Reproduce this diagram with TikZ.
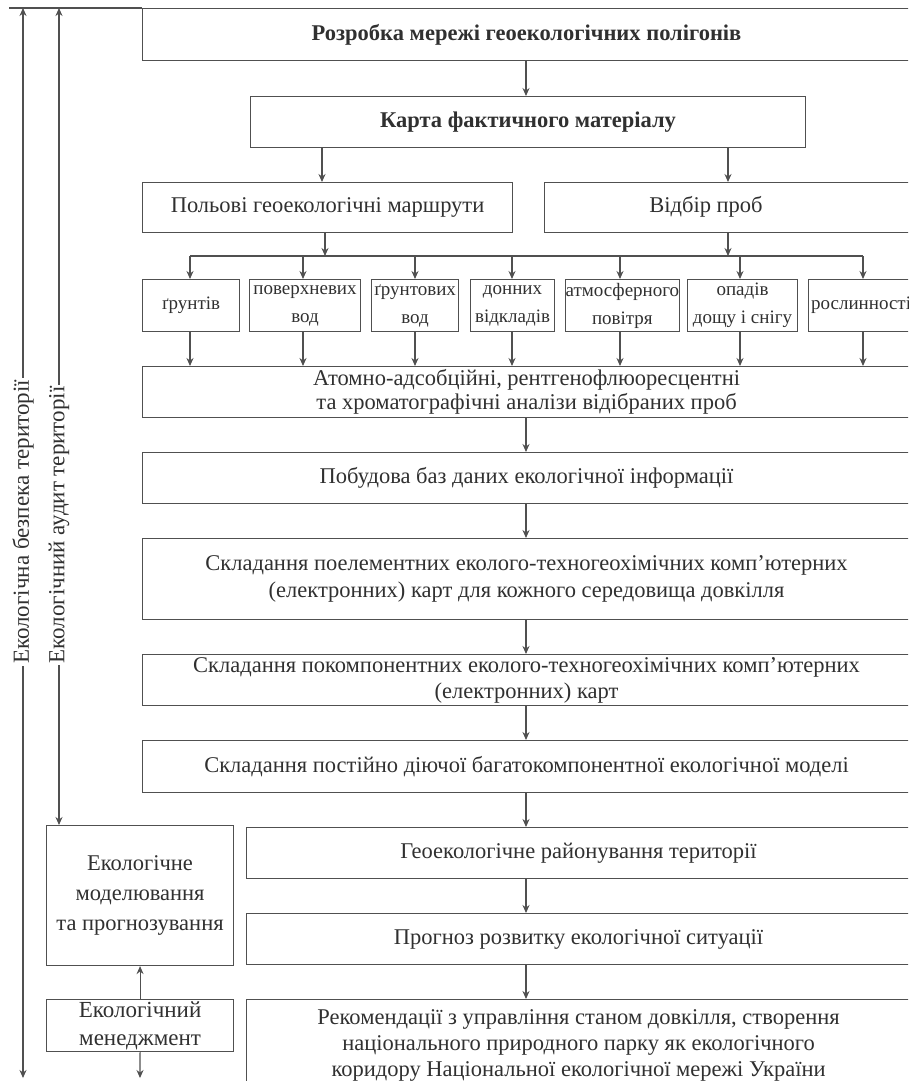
\documentclass[tikz,border=0pt]{standalone}
\usepackage{fontspec}
\setmainfont{Liberation Serif}
\usetikzlibrary{arrows.meta}
\definecolor{linec}{HTML}{505050}
\definecolor{txtc}{HTML}{303030}
\begin{document}
\begin{tikzpicture}[x=1pt,y=-1pt,
  box/.style={draw=linec, line width=1.1pt, inner sep=0pt, anchor=north west, text=txtc, align=center, font=\fontsize{22.5}{27}\selectfont},
  sbox/.style={box, minimum height=52pt, font=\fontsize{19}{28}\selectfont},
  txt/.style={inner sep=0pt, text=txtc, align=center, font=\fontsize{22.5}{27}\selectfont},
  arr/.style={draw=linec, line width=1.1pt, -{Stealth[length=8pt,width=7pt]}},
  dbl/.style={draw=linec, line width=1.1pt, {Stealth[length=8pt,width=7pt]}-{Stealth[length=8pt,width=7pt]}},
  ln/.style={draw=linec, line width=1.1pt},
  vlab/.style={rotate=90, fill=white, inner sep=2pt, text=txtc, font=\fontsize{23}{26}\selectfont}]
\useasboundingbox (0,0) rectangle (908,1081);
\clip (0,0) rectangle (908,1081);
% main column
\node[box, minimum width=768pt, minimum height=52pt, font=\fontsize{22.5}{27}\selectfont\bfseries] (b1) at (142,8) {Розробка мережі геоекологічних полігонів};
\node[box, minimum width=555pt, minimum height=51pt, font=\fontsize{22.5}{27}\selectfont\bfseries] (b2) at (250,96) {Карта фактичного матеріалу};
\node[box, minimum width=370pt, minimum height=50pt] (b3) at (142,182) {Польові геоекологічні маршрути};
\node[box, minimum width=366pt, minimum height=50pt] (b4) at (544,182) {};
\node[txt] (b4t) at (706,207) {Відбір проб};
% small boxes
\node[sbox, minimum width=97pt] (s1) at (142,279) {ґрунтів};
\node[sbox, minimum width=111pt] (s2) at (249,279) {поверхневих\\вод};
\node[sbox, minimum width=87pt] (s3) at (371,279) {ґрунтових\\вод};
\node[sbox, minimum width=84pt] (s4) at (470,279) {донних\\відкладів};
\node[sbox, minimum width=110pt] (s5) at (565,279) {атмосферного\\повітря};
\node[sbox, minimum width=110pt] (s6) at (687,279) {опадів\\дощу і снігу};
\node[sbox, minimum width=117pt] (s7) at (808,279) {};
\node[txt, anchor=west, font=\fontsize{19}{28}\selectfont] (s7t) at (811,305) {рослинності};
% analysis and following
\node[box, minimum width=768pt, minimum height=51pt, font=\fontsize{22.5}{24}\selectfont] (a1) at (142,366) {Атомно-адсобційні, рентгенофлюоресцентні\\та хроматографічні аналізи відібраних проб};
\node[box, minimum width=768pt, minimum height=51pt] (a2) at (142,452) {Побудова баз даних екологічної інформації};
\node[box, minimum width=768pt, minimum height=81pt] (a3) at (142,538) {Складання поелементних еколого-техногеохімічних комп'ютерних\\(електронних) карт для кожного середовища довкілля};
\node[box, minimum width=768pt, minimum height=51pt, font=\fontsize{22.5}{26}\selectfont] (a4) at (142,654) {Складання покомпонентних еколого-техногеохімічних комп'ютерних\\(електронних) карт};
\node[box, minimum width=768pt, minimum height=52pt] (a5) at (142,740) {Складання постійно діючої багатокомпонентної екологічної моделі};
\node[box, minimum width=664pt, minimum height=51pt] (a6) at (246,827) {Геоекологічне районування території};
\node[box, minimum width=664pt, minimum height=51pt] (a7) at (246,913) {Прогноз розвитку екологічної ситуації};
\node[box, minimum width=664pt, minimum height=91pt, font=\fontsize{22.5}{26}\selectfont] (a8) at (246,999) {Рекомендації з управління станом довкілля, створення\\національного природного парку як екологічного\\коридору Національної екологічної мережі України};
% left boxes
\node[box, minimum width=187pt, minimum height=140pt, font=\fontsize{22.5}{30}\selectfont] (m1) at (46,825) {Екологічне\\моделювання\\та прогнозування};
\node[box, minimum width=187pt, minimum height=52pt, font=\fontsize{23}{28}\selectfont] (m2) at (46,999) {Екологічний\\менеджмент};
% coordinates
\coordinate (ax) at (526,0);
\coordinate (busL) at (190,256);
\coordinate (busR) at (863,256);
\coordinate (topL) at (9,8);
\coordinate (l1b) at (23,1078);
\coordinate (l1t) at (23,8);
\coordinate (l2t) at (59,8);
\coordinate (l2b) at (59,825);
\coordinate (mgb) at (140,1078);
% top line
\draw[ln] (topL) -- (b1.north west);
% main arrows
\draw[arr] (b1.south -| ax) -- (b2.north -| ax);
\draw[arr] (b2.south -| 322,0) -- (b3.north -| 322,0);
\draw[arr] (b2.south -| 728,0) -- (b4.north -| 728,0);
\draw[ln] (busL) -- (busR);
\draw[arr] (b3.south -| 325,0) -- (busL -| 325,0);
\draw[arr] (b4.south -| 728,0) -- (busL -| 728,0);
\foreach \s/\x in {s1/190,s2/303,s3/415,s4/512,s5/620,s6/740,s7/863}{
  \draw[arr] (busL -| \x,0) -- (\s.north -| \x,0);
  \draw[arr] (\s.south -| \x,0) -- (a1.north -| \x,0);
}
\draw[arr] (a1.south -| ax) -- (a2.north -| ax);
\draw[arr] (a2.south -| ax) -- (a3.north -| ax);
\draw[arr] (a3.south -| ax) -- (a4.north -| ax);
\draw[arr] (a4.south -| ax) -- (a5.north -| ax);
\draw[arr] (a5.south -| ax) -- (a6.north -| ax);
\draw[arr] (a6.south -| ax) -- (a7.north -| ax);
\draw[arr] (a7.south -| ax) -- (a8.north -| ax);
% left side
\draw[arr] (m2.north) -- (m1.south);
\draw[arr] (m2.south) -- (mgb);
\draw[dbl] (l1b) -- (l1t);
\draw[dbl] (l2b) -- (l2t);
\node[vlab] (v1) at (23,522) {Екологічна безпека території};
\node[vlab] (v2) at (59,525) {Екологічний аудит території};
\end{tikzpicture}
\end{document}
